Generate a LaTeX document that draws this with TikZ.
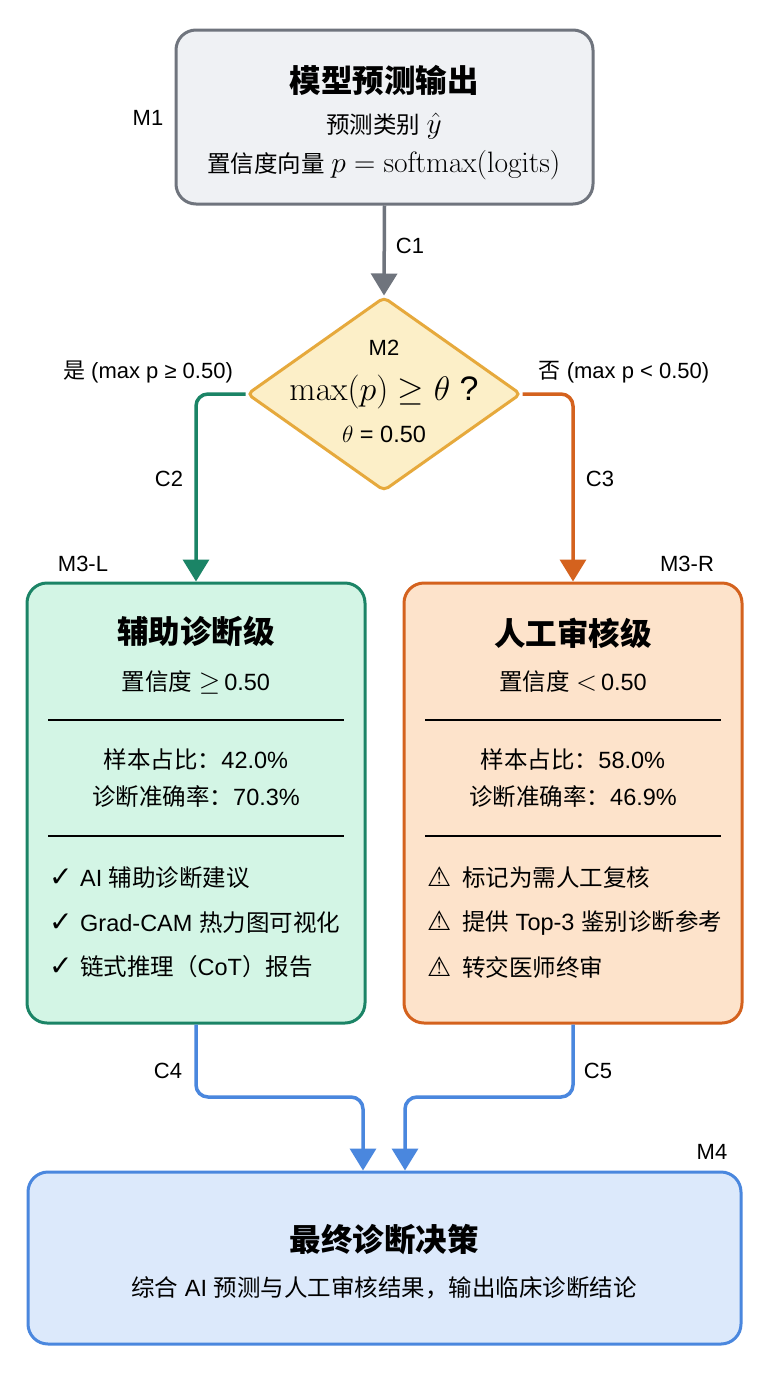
\RequirePackage{fix-cm}
\documentclass[tikz,border=0pt]{standalone}
\usepackage[no-math]{fontspec}
\setmainfont{Liberation Sans}
\newfontfamily\cjk{Noto Sans CJK SC}
\newfontfamily\sym{DejaVu Sans}
\usetikzlibrary{arrows.meta,shapes.geometric}
% automatic switch to the CJK font for CJK characters
\XeTeXinterchartokenstate=1
\newXeTeXintercharclass\CJKcls
\newcount\cjkcnt
\cjkcnt="4E00
\loop\XeTeXcharclass\cjkcnt=\CJKcls\advance\cjkcnt by 1\ifnum\cjkcnt<"A000\repeat
\cjkcnt="3000
\loop\XeTeXcharclass\cjkcnt=\CJKcls\advance\cjkcnt by 1\ifnum\cjkcnt<"3040\repeat
\cjkcnt="FF00
\loop\XeTeXcharclass\cjkcnt=\CJKcls\advance\cjkcnt by 1\ifnum\cjkcnt<"FFF0\repeat
\XeTeXinterchartoks 0 \CJKcls = {\cjk}
\XeTeXinterchartoks 4095 \CJKcls = {\cjk}
\XeTeXinterchartoks \CJKcls 0 = {\rmfamily}
\XeTeXinterchartoks \CJKcls 4095 = {\rmfamily}

\definecolor{grayB}{HTML}{6F747D}
\definecolor{grayF}{HTML}{EFF1F4}
\definecolor{yelB}{HTML}{E6A93C}
\definecolor{yelF}{HTML}{FCEFC8}
\definecolor{grnB}{HTML}{1B8466}
\definecolor{grnF}{HTML}{D3F5E5}
\definecolor{orgB}{HTML}{D4621E}
\definecolor{orgF}{HTML}{FDE3CB}
\definecolor{bluB}{HTML}{4A87DE}
\definecolor{bluF}{HTML}{DCE9FB}

\tikzset{
  box/.style={draw, line width=3pt, rounded corners=20pt, inner sep=0pt},
  lbl/.style={font=\fontsize{22}{26}\selectfont, inner sep=0pt},
  body/.style={font=\fontsize{23.5}{28}\selectfont, inner sep=0pt},
  ttl/.style={font=\fontsize{31.5}{36}\selectfont\bfseries, inner sep=0pt},
  item/.style={font=\fontsize{23.5}{28}\selectfont, inner sep=0pt, anchor=west},
  conn/.style={line width=3.5pt, rounded corners=12pt, -{Triangle[length=22pt,width=26pt]}},
  divider/.style={line width=1.5pt, black},
}
\newcommand{\myck}{\makebox[31pt][l]{\sym\fontsize{28}{30}\selectfont ✓}}
\newcommand{\mywn}{\makebox[35pt][l]{\sym\fontsize{27}{30}\selectfont ⚠}}
\newcommand{\mbig}[1]{{\fontsize{29.5}{32}\selectfont$#1$}}

\begin{document}
\begin{tikzpicture}[x=1pt,y=-1pt]
\path[use as bounding box, fill=white] (0,0) rectangle (768,1376);

% M1
\node[box, draw=grayB, fill=grayF, minimum width=417pt, minimum height=174pt] (M1) at (384.5,117) {};
\node[ttl] (M1t) at (384,80) {模型预测输出};
\node[body] (M1a) at (384,126) {预测类别 \mbig{\hat{y}}};
\node[body] (M1b) at (384,165) {置信度向量 \mbig{p = \mathrm{softmax}(\mathrm{logits})}};
\node[lbl] (M1l) at (148,118) {M1};

% M2
\node[diamond, draw=yelB, fill=yelF, line width=3pt, minimum width=274pt, minimum height=194pt, inner sep=0pt, rounded corners=5pt] (M2) at (384,394) {};
\node[lbl] (M2l) at (384,348) {M2};
\node[inner sep=0pt, font=\fontsize{34}{38}\selectfont] (M2t) at (384,392) {$\max(p) \geq \theta$ ?};
\node[body] (M2b) at (384,434) {$\theta$ = 0.50};

\draw[conn, draw=grayB] (M1.south) -- (M2.north);
\node[lbl] (C1) at (410,246) {C1};

\node[lbl] (yes) at (148,372) {是 (max p ≥ 0.50)};
\node[lbl] (no) at (624,372) {否 (max p < 0.50)};

% M3-L
\node[box, draw=grnB, fill=grnF, minimum width=338pt, minimum height=440pt] (M3L) at (196,803) {};
\node[lbl] (M3Ll) at (83,564) {M3-L};
\node[ttl] (M3Lt) at (196,632) {辅助诊断级};
\node[body] (M3Lc) at (196,682) {置信度 {\fontsize{27.5}{30}\selectfont$\geq$}\,0.50};
\draw[divider] (48,720) -- (344,720);
\node[body] (M3Ls1) at (196,760) {样本占比：42.0\%};
\node[body] (M3Ls2) at (196,797) {诊断准确率：70.3\%};
\draw[divider] (48,836) -- (344,836);
\node[item] (M3Li1) at (49,878) {\myck AI 辅助诊断建议};
\node[item] (M3Li2) at (49,923) {\myck Grad-CAM 热力图可视化};
\node[item] (M3Li3) at (49,967) {\myck 链式推理（CoT）报告};

% M3-R
\node[box, draw=orgB, fill=orgF, minimum width=338pt, minimum height=440pt] (M3R) at (573,803) {};
\node[lbl] (M3Rl) at (687,564) {M3-R};
\node[ttl] (M3Rt) at (573,633) {人工审核级};
\node[body] (M3Rc) at (573,682) {置信度 {\fontsize{27.5}{30}\selectfont$<$}\,0.50};
\draw[divider] (425,720) -- (721,720);
\node[body] (M3Rs1) at (573,760) {样本占比：58.0\%};
\node[body] (M3Rs2) at (573,797) {诊断准确率：46.9\%};
\draw[divider] (425,836) -- (721,836);
\node[item] (M3Ri1) at (427,878) {\mywn 标记为需人工复核};
\node[item] (M3Ri2) at (427,923) {\mywn 提供 Top-3 鉴别诊断参考};
\node[item] (M3Ri3) at (427,967) {\mywn 转交医师终审};

% C2, C3
\draw[conn, draw=grnB] (M2.west) -| (M3L.north);
\draw[conn, draw=orgB] (M2.east) -| (M3R.north);
\node[lbl] (C2) at (169,479) {C2};
\node[lbl] (C3) at (600,479) {C3};

% M4
\node[box, draw=bluB, fill=bluF, minimum width=713pt, minimum height=172pt] (M4) at (384.5,1258) {};
\node[lbl] (M4l) at (712,1152) {M4};
\node[ttl] (M4t) at (384,1240) {最终诊断决策};
\node[body] (M4s) at (384,1288) {综合 AI 预测与人工审核结果，输出临床诊断结论};

% C4, C5
\coordinate (j4) at (363,1097);
\coordinate (j5) at (405,1097);
\draw[conn, draw=bluB] (M3L.south) |- (j4) -- (j4 |- M4.north);
\draw[conn, draw=bluB] (M3R.south) |- (j5) -- (j5 |- M4.north);
\node[lbl] (C4) at (168,1071) {C4};
\node[lbl] (C5) at (598,1071) {C5};
\end{tikzpicture}
\end{document}
